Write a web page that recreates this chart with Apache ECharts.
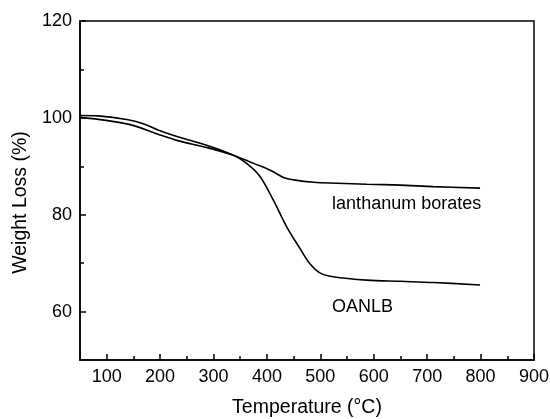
<!DOCTYPE html>
<html>
<head>
<meta charset="utf-8">
<script src="https://cdn.jsdelivr.net/npm/echarts@6/dist/echarts.min.js"></script>
<style>html,body{margin:0;padding:0;background:#fff}#c{width:550px;height:419px}</style>
</head>
<body>
<div id="c"></div>
<script>
// Temperature (°C) and weight (%)
const oanlbT = [50, 84, 140, 171, 196, 233, 290, 337, 362, 387, 412, 437, 462, 481, 499, 524, 587, 650, 712, 799];
const oanlbW = [100.5, 100.4, 99.6, 98.7, 97.5, 96.1, 94.25, 92.3, 90.6, 87.9, 83.0, 77.5, 73.0, 69.8, 68.0, 67.2, 66.5, 66.25, 66.0, 65.5];
const lbT = [50, 140, 196, 233, 290, 337, 375, 406, 431, 450, 487, 531, 587, 650, 711, 799];
const lbW = [100.1, 98.7, 96.6, 95.3, 93.8, 92.3, 90.6, 89.2, 87.7, 87.2, 86.7, 86.5, 86.3, 86.1, 85.8, 85.5];
const xMajorTicks = [100, 200, 300, 400, 500, 600, 700, 800, 900];
const xMinorTicks = [150, 250, 350, 450, 550, 650, 750, 850];
const yMajorTicks = [60, 80, 100, 120];
const yMinorTicks = [70, 90, 110];
const annotations = [
  {name: 'lanthanum borates', coord: [522, 82.2]},
  {name: 'OANLB', coord: [522, 61.0]}
];

const FONT = 'Liberation Sans, Arial, sans-serif';
const zip = (a, b) => a.map((v, i) => [v, b[i]]);

const chart = echarts.init(document.getElementById('c'), null, {renderer: 'canvas'});
chart.setOption({
  animation: false,
  backgroundColor: '#fff',
  grid: {left: 80, right: 16, top: 21, bottom: 59, containLabel: false, outerBoundsMode: 'none', show: true, borderColor: '#000', borderWidth: 1.5, backgroundColor: 'transparent'},
  xAxis: [
    {
      type: 'value', min: 50, max: 900,
      name: 'Temperature (°C)', nameLocation: 'middle', nameGap: 38,
      nameTextStyle: {fontFamily: FONT, fontSize: 19.5, color: '#000'},
      axisLine: {show: true, lineStyle: {color: '#000', width: 1.5}},
      axisTick: {show: true, inside: true, length: 6, lineStyle: {color: '#000', width: 1.5}, customValues: xMajorTicks},
      axisLabel: {fontFamily: FONT, fontSize: 18, color: '#000', margin: 8, customValues: xMajorTicks, showMinLabel: true, showMaxLabel: true},
      splitLine: {show: false}
    },
    {
      type: 'value', min: 50, max: 900, position: 'bottom',
      axisLine: {show: false},
      axisTick: {show: true, inside: true, length: 4, lineStyle: {color: '#000', width: 1.5}, customValues: xMinorTicks},
      axisLabel: {show: false},
      splitLine: {show: false}
    }
  ],
  yAxis: [
    {
      type: 'value', min: 50, max: 120,
      name: 'Weight Loss (%)', nameLocation: 'middle', nameGap: 47,
      nameTextStyle: {fontFamily: FONT, fontSize: 19.5, color: '#000', padding: [0, 24, 0, 0]},
      axisLine: {show: true, lineStyle: {color: '#000', width: 1.5}},
      axisTick: {show: true, inside: true, length: 6, lineStyle: {color: '#000', width: 1.5}, customValues: yMajorTicks},
      axisLabel: {fontFamily: FONT, fontSize: 18, color: '#000', margin: 8, customValues: yMajorTicks},
      splitLine: {show: false}
    },
    {
      type: 'value', min: 50, max: 120, position: 'left',
      axisLine: {show: false},
      axisTick: {show: true, inside: true, length: 4, lineStyle: {color: '#000', width: 1.5}, customValues: yMinorTicks},
      axisLabel: {show: false},
      splitLine: {show: false}
    }
  ],
  series: [
    {
      type: 'line', name: 'OANLB', data: zip(oanlbT, oanlbW), smooth: 0.35,
      symbol: 'none', lineStyle: {color: '#000', width: 1.6}
    },
    {
      type: 'line', name: 'lanthanum borates', data: zip(lbT, lbW), smooth: 0.35,
      symbol: 'none', lineStyle: {color: '#000', width: 1.6},
      markPoint: {
        symbol: 'circle', symbolSize: 0, silent: true,
        label: {show: true, position: 'right', distance: 0, formatter: p => p.name, fontFamily: FONT, fontSize: 18, color: '#000'},
        data: annotations.map(a => ({name: a.name, coord: a.coord}))
      }
    }
  ]
});
</script>
</body>
</html>
